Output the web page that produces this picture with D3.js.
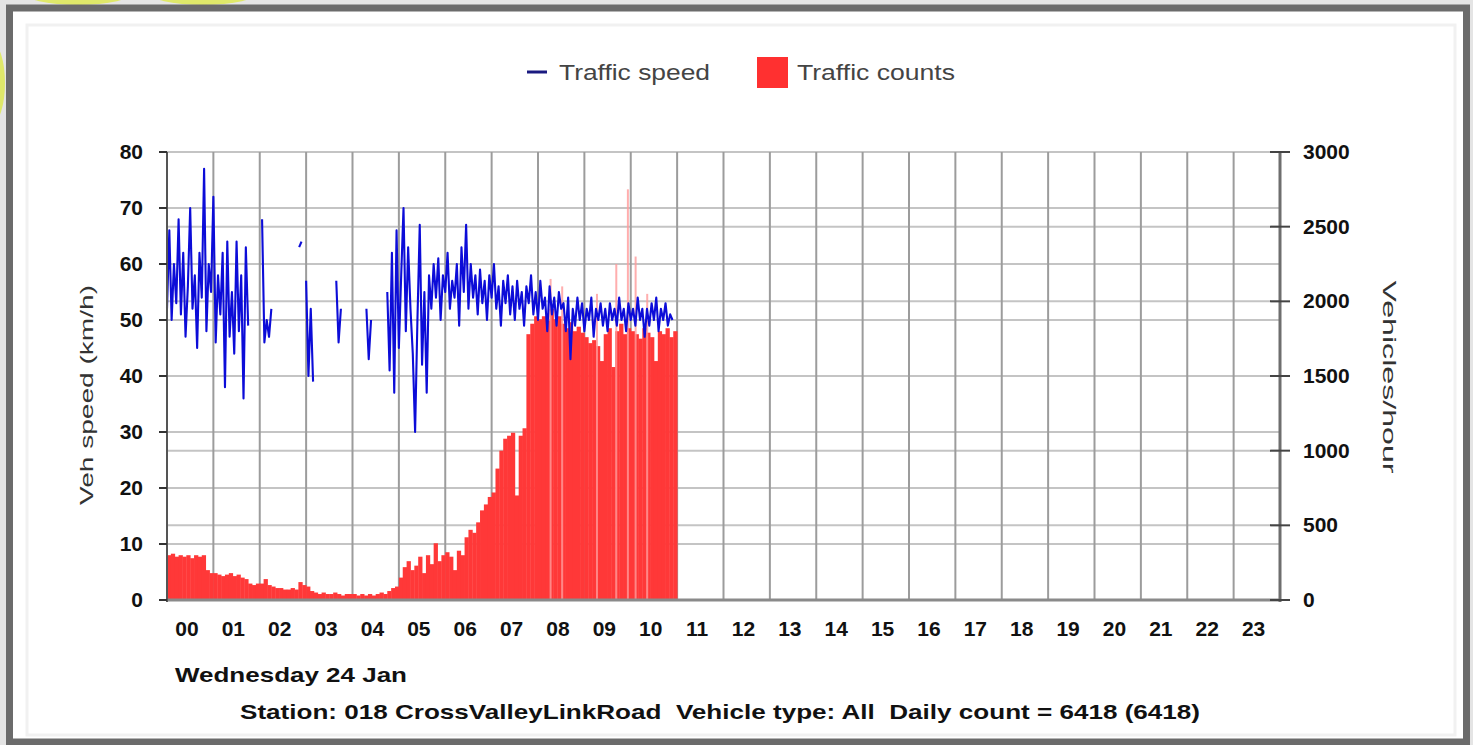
<!DOCTYPE html>
<html><head><meta charset="utf-8">
<script src="https://cdn.jsdelivr.net/npm/d3@7/dist/d3.min.js"></script>
<style>
html,body{margin:0;padding:0;background:#e6e6e6;}
svg{display:block;font-family:"Liberation Sans",Arial,sans-serif;}
text{white-space:pre;}
</style></head>
<body>
<svg id="chart" width="1473" height="745"></svg>
<script>
// ---------- data ----------
const hourLabels = ["00","01","02","03","04","05","06","07","08","09","10","11","12","13","14","15","16","17","18","19","20","21","22","23"];
const speedTicks = [0,10,20,30,40,50,60,70,80];
const countTicks = [0,500,1000,1500,2000,2500,3000];

// traffic counts (veh/h), 5-minute bins starting at 00:00
const countBinMinutes = 5;
const countValues = [
 300,310,290,300,290,300,280,300,290,300,200,180,
 180,170,160,170,180,160,170,150,140,110,100,110,
 110,140,100,90,80,80,70,70,80,70,120,100,
 90,60,50,40,50,40,40,50,40,30,40,40,
 40,30,40,30,40,30,40,50,40,60,80,90,
 150,220,260,200,230,290,180,300,240,380,260,300,
 320,290,200,330,300,420,470,450,520,600,640,690,
 720,880,1000,1080,1100,1120,700,1100,1150,1780,1850,1900,
 1880,1900,1870,1950,1880,1900,1850,1820,1860,1800,1830,1790,
 1760,1720,1740,1700,1600,1780,1820,1560,1800,1850,1780,1820,
 1800,1780,1750,1820,1790,1760,1600,1800,1780,1820,1760,1800
];
// short single-minute peaks in counts
const peakMinutes = [495,510,555,580,595,605,620];
const peakValues  = [2150,2100,2050,2250,2750,2300,2050];

// traffic speed (km/h), 3-minute samples
const speedStepMinutes = 3;
const speedStartA = 0;
const speedValuesA = [52,66,50,60,53,68,51,62,47,56,70,52,58,45,62,54,77,48,60,55,72,46,58,51,62,38,64,47,55,44,64,48,58,36,63,49];
const nightMinutes = [[123,126,129,132,135],[171,174],[180,183,186,189],[219,222,225],[258,261,264]];
const nightValues  = [[68,46,50,47,52],[63,64],[57,40,52,39],[57,46,52],[52,43,50]];
const speedStartB = 285;
const speedValuesB = [55,41,62,37,66,45,58,70,48,63,52,44,30,50,
 67,42,55,37,58,52,60,54,61,50,
 58,55,62,52,57,54,60,49,63,55,
 67,52,60,54,58,51,59,53,57,50,
 58,54,60,52,56,49,57,53,58,51,
 56,50,57,52,55,49,56,53,58,51,
 55,50,57,52,54,48,56,51,54,49,
 55,52,53,48,54,43,52,49,54,50,
 53,48,52,50,54,47,52,50,53,49,
 52,48,53,50,52,49,54,50,52,48,
 53,50,52,49,54,50,52,47,52,49,
 53,50,54,48,52,50,53,49,51,50];

const titleDate = "Wednesday 24 Jan";
const titleStation = "Station: 018 CrossValleyLinkRoad  Vehicle type: All  Daily count = 6418 (6418)";

// ---------- layout ----------
const svg = d3.select("#chart");
const L = 167, R = 1280, T = 152, B = 600;
const x = d3.scaleLinear().domain([0, 1440]).range([L, R]);
const ySpeed = d3.scaleLinear().domain([0, 80]).range([B, T]);
const yCount = d3.scaleLinear().domain([0, 3000]).range([B, T]);

// background and frame
svg.append("rect").attr("x",0).attr("y",0).attr("width",1473).attr("height",745).attr("fill","#e4e4e4");
svg.append("ellipse").attr("cx",78).attr("cy",-8).attr("rx",55).attr("ry",13).attr("fill","#dfe86a");
svg.append("ellipse").attr("cx",203).attr("cy",-8).attr("rx",55).attr("ry",13).attr("fill","#dfe86a");
svg.append("ellipse").attr("cx",-8).attr("cy",83).attr("rx",13).attr("ry",40).attr("fill","#dfe86a");
svg.append("rect").attr("x",9.5).attr("y",8).attr("width",1457).attr("height",734)
  .attr("fill","#ffffff").attr("stroke","#6b6b6b").attr("stroke-width",7);
svg.append("rect").attr("x",27).attr("y",25).attr("width",1428).attr("height",710)
  .attr("fill","none").attr("stroke","#f1f1f1").attr("stroke-width",3);

// grid
const grid = svg.append("g");
grid.selectAll(".hs").data(speedTicks).join("line")
  .attr("x1",L).attr("x2",R).attr("y1",d=>ySpeed(d)).attr("y2",d=>ySpeed(d))
  .attr("stroke","#c4c4c4").attr("stroke-width",2);
grid.selectAll(".hc").data(countTicks).join("line")
  .attr("x1",L).attr("x2",R).attr("y1",d=>yCount(d)).attr("y2",d=>yCount(d))
  .attr("stroke","#c4c4c4").attr("stroke-width",2);
grid.selectAll(".v").data(d3.range(1,24)).join("line")
  .attr("x1",d=>x(d*60)).attr("x2",d=>x(d*60)).attr("y1",T).attr("y2",B)
  .attr("stroke","#9c9c9c").attr("stroke-width",2);

// counts bars
const plot = svg.append("g");
plot.selectAll(".bar").data(countValues).join("rect")
  .attr("x",(d,i)=>x(i*countBinMinutes))
  .attr("width",(d,i)=>x((i+1)*countBinMinutes)-x(i*countBinMinutes)+0.4)
  .attr("y",d=>yCount(d)).attr("height",d=>B-yCount(d))
  .attr("fill","#ff3838");
plot.selectAll(".peak").data(peakValues).join("rect")
  .attr("x",(d,i)=>x(peakMinutes[i])).attr("width",2)
  .attr("y",d=>yCount(d)).attr("height",d=>B-yCount(d))
  .attr("fill","#ff9a9a").attr("opacity",0.8);

// speed lines
const line = d3.line().x(d=>x(d[0])).y(d=>ySpeed(d[1]));
const segs = [];
segs.push(speedValuesA.map((v,i)=>[speedStartA+i*speedStepMinutes, v]));
nightMinutes.forEach((m,k)=>segs.push(m.map((t,i)=>[t, nightValues[k][i]])));
segs.push(speedValuesB.map((v,i)=>[speedStartB+i*speedStepMinutes, v]));
plot.selectAll(".spd").data(segs).join("path")
  .attr("d",line).attr("fill","none").attr("stroke","#0c0cd8")
  .attr("stroke-width",2.1).attr("stroke-linejoin","round");

// axes lines
svg.append("line").attr("x1",L).attr("x2",R).attr("y1",B).attr("y2",B).attr("stroke","#8a8a8a").attr("stroke-width",3);
svg.append("line").attr("x1",L).attr("x2",L).attr("y1",T).attr("y2",B+2).attr("stroke","#555").attr("stroke-width",2);
svg.append("line").attr("x1",R).attr("x2",R).attr("y1",T).attr("y2",B+2).attr("stroke","#6e6e6e").attr("stroke-width",3);
svg.selectAll(".lt").data(speedTicks).join("line")
  .attr("x1",L-8).attr("x2",L).attr("y1",d=>ySpeed(d)).attr("y2",d=>ySpeed(d))
  .attr("stroke","#333").attr("stroke-width",2);
svg.selectAll(".rt").data(countTicks).join("line")
  .attr("x1",R-10).attr("x2",R+10).attr("y1",d=>yCount(d)).attr("y2",d=>yCount(d))
  .attr("stroke","#444").attr("stroke-width",2);

// tick labels
const lab = svg.append("g").attr("font-weight","bold").attr("font-size",21).attr("fill","#111");
lab.selectAll(".ll").data(speedTicks).join("text")
  .attr("x",143).attr("y",d=>ySpeed(d)+7).attr("text-anchor","end").text(d=>d);
lab.selectAll(".rl").data(countTicks).join("text")
  .attr("x",1303).attr("y",d=>yCount(d)+7).attr("text-anchor","start").text(d=>d);
lab.selectAll(".xl").data(hourLabels).join("text")
  .attr("x",(d,i)=>x(i*60)+20).attr("y",636).attr("text-anchor","middle").text(d=>d);

// axis titles
svg.append("text").attr("transform","translate(93,395) rotate(-90)")
  .attr("text-anchor","middle").attr("font-size",18).attr("fill","#333")
  .attr("textLength",220).attr("lengthAdjust","spacingAndGlyphs").text("Veh speed (km/h)");
svg.append("text").attr("transform","translate(1383,377) rotate(90)")
  .attr("text-anchor","middle").attr("font-size",18).attr("fill","#333")
  .attr("textLength",193).attr("lengthAdjust","spacingAndGlyphs").text("Vehicles/hour");

// titles
svg.append("text").attr("x",175).attr("y",682).attr("font-weight","bold").attr("font-size",21).attr("fill","#111")
  .attr("textLength",232).attr("lengthAdjust","spacingAndGlyphs").text(titleDate);
svg.append("text").attr("x",240).attr("y",719).attr("font-weight","bold").attr("font-size",21).attr("fill","#111")
  .attr("textLength",960).attr("lengthAdjust","spacingAndGlyphs").text(titleStation);

// legend
svg.append("line").attr("x1",527).attr("x2",547).attr("y1",72).attr("y2",72).attr("stroke","#1a1a80").attr("stroke-width",3);
svg.append("text").attr("x",559).attr("y",80).attr("font-size",22).attr("fill","#444")
  .attr("textLength",151).attr("lengthAdjust","spacingAndGlyphs").text("Traffic speed");
svg.append("rect").attr("x",757).attr("y",57).attr("width",31).attr("height",31).attr("fill","#ff3030");
svg.append("text").attr("x",797).attr("y",80).attr("font-size",22).attr("fill","#444")
  .attr("textLength",158).attr("lengthAdjust","spacingAndGlyphs").text("Traffic counts");
</script>
</body></html>
